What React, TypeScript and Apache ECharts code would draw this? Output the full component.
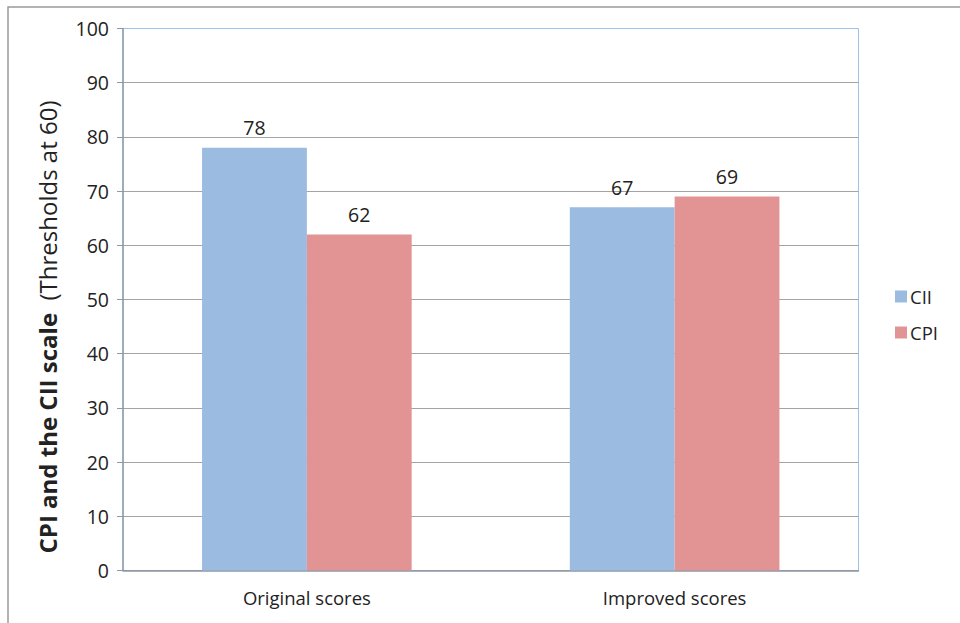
import React, { useEffect, useRef } from "react";
import * as echarts from "echarts";

// Chart data
const categories = ["Original scores", "Improved scores"];
const ciiValues = [78, 67];
const cpiValues = [62, 69];
const seriesNames = ["CII", "CPI"];
const yMin = 0;
const yMax = 100;
const yStep = 10;

const FONT = "'Open Sans', 'Noto Sans', sans-serif";
const TEXT_COLOR = "#222222";

export default function App() {
  const ref = useRef<HTMLDivElement>(null);

  useEffect(() => {
    if (!ref.current) return;
    const chart = echarts.init(ref.current, undefined, { renderer: "svg" });

    const labelStyle = {
      show: true,
      position: "top" as const,
      distance: 10,
      fontSize: 19.5,
      fontFamily: FONT,
      color: TEXT_COLOR,
    };

    chart.setOption({
      animation: false,
      backgroundColor: "#ffffff",
      textStyle: { fontFamily: FONT },
      grid: {
        left: 123,
        top: 28.5,
        right: 101.5,
        bottom: 52.5,
        show: true,
        borderColor: "#9DC3E6",
        borderWidth: 1,
        backgroundColor: "transparent",
      },
      legend: {
        orient: "vertical",
        left: 890,
        top: 282,
        itemWidth: 12,
        itemHeight: 12,
        itemGap: 17,
        icon: "rect",
        textStyle: { fontSize: 18.5, fontFamily: FONT, color: TEXT_COLOR, padding: [0, 0, 0, -2] },
        data: seriesNames,
      },
      xAxis: {
        type: "category",
        data: categories,
        axisLine: { show: true, lineStyle: { color: "#8E98A6", width: 1.5 } },
        axisTick: { show: false },
        axisLabel: {
          fontSize: 18.5,
          fontFamily: FONT,
          color: TEXT_COLOR,
          margin: 17,
        },
      },
      yAxis: {
        type: "value",
        min: yMin,
        max: yMax,
        interval: yStep,
        axisLine: { show: true, lineStyle: { color: "#8E98A6", width: 1.5 } },
        axisTick: { show: true, length: 6, lineStyle: { color: "#8E98A6" } },
        axisLabel: {
          fontSize: 19.5,
          fontFamily: FONT,
          color: TEXT_COLOR,
          margin: 14,
        },
        splitLine: {
          show: true,
          showMaxLine: false,
          lineStyle: { color: "#A3A3A3", width: 1.2 },
        },
      },
      series: [
        {
          name: seriesNames[0],
          type: "bar",
          data: ciiValues,
          barGap: "0%",
          barCategoryGap: "43%",
          itemStyle: { color: "#9BBBE0" },
          label: labelStyle,
        },
        {
          name: seriesNames[1],
          type: "bar",
          data: cpiValues,
          itemStyle: { color: "#E29494" },
          label: labelStyle,
        },
      ],
      graphic: [
        {
          type: "rect",
          left: 5.5,
          top: 4.5,
          shape: { x: 0, y: 0, width: 953, height: 640 },
          style: { fill: "none", stroke: "#9A9A9A", lineWidth: 1.5 },
          silent: true,
          z: -1,
        },
        {
          type: "text",
          x: 47,
          y: 327,
          rotation: Math.PI / 2,
          style: {
            text: "{b|CPI and the CII scale}{n|  (Thresholds at 60)}",
            align: "center",
            verticalAlign: "middle",
            rich: {
              b: { fontSize: 24, fontWeight: "bold", fontFamily: FONT, fill: TEXT_COLOR },
              n: { fontSize: 24, fontFamily: FONT, fill: TEXT_COLOR },
            },
          },
        },
      ],
    });

    return () => chart.dispose();
  }, []);

  return (
    <div
      ref={ref}
      style={{ position: "fixed", left: 0, top: 0, width: 960, height: 623 }}
    />
  );
}
